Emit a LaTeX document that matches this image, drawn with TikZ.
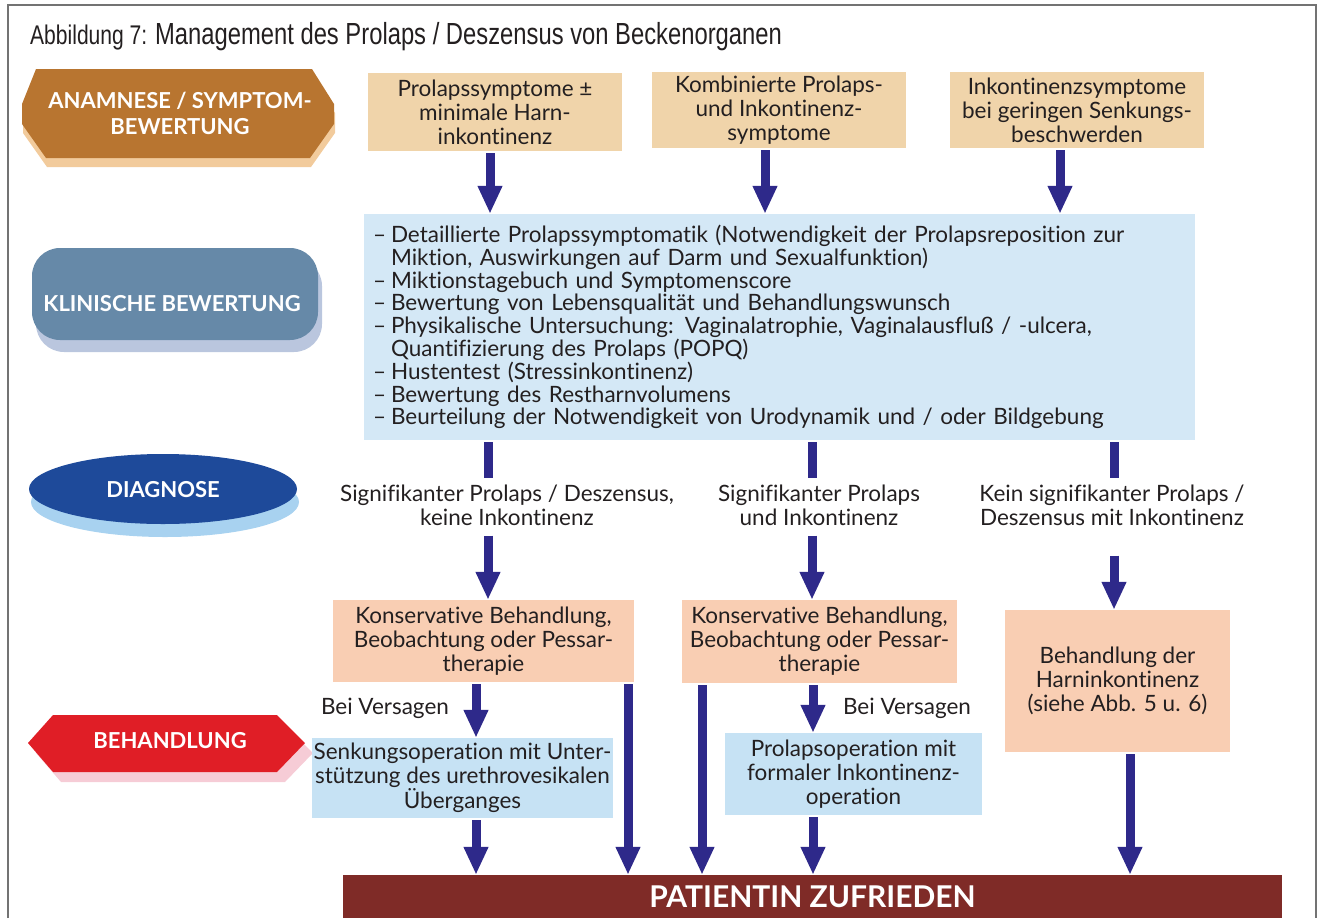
\documentclass[tikz,border=0pt]{standalone}
\usepackage{fontspec}
\setmainfont{Lato}[Ligatures=NoCommon]
\newfontfamily\titlefont[FakeStretch=0.78]{Liberation Sans}
\usetikzlibrary{arrows.meta,calc,positioning}
\definecolor{pfeilblau}{RGB}{46,41,138}
\definecolor{sand}{RGB}{240,212,170}
\definecolor{lachs}{RGB}{249,206,179}
\definecolor{hellblau}{RGB}{212,232,246}
\definecolor{eisblau}{RGB}{198,226,244}
\definecolor{braun}{RGB}{184,117,48}
\definecolor{braunhell}{RGB}{242,203,156}
\definecolor{stahl}{RGB}{102,137,168}
\definecolor{stahlhell}{RGB}{186,198,222}
\definecolor{marine}{RGB}{30,74,154}
\definecolor{marinehell}{RGB}{168,210,240}
\definecolor{signalrot}{RGB}{224,30,38}
\definecolor{rosa}{RGB}{246,204,214}
\definecolor{weinrot}{RGB}{127,43,39}
\definecolor{schrift}{RGB}{35,31,32}
\newcommand{\punkt}{\makebox[18pt][l]{–}}
\tikzset{
  kasten/.style={inner sep=0pt, align=center, text=schrift,
                 font=\fontsize{22.5}{24}\selectfont},
  pfeil/.style={draw=pfeilblau, line width=9pt, shorten <=2pt,
                -{Triangle[width=23pt,length=28pt]}},
  balken/.style={draw=pfeilblau, line width=9pt, shorten <=2pt, shorten >=6pt},
  etikett/.style={inner sep=0pt, align=center, text=white,
                  font=\fontsize{22}{26}\selectfont\bfseries}
}

\begin{document}
\begin{tikzpicture}[x=1pt,y=-1pt]
\useasboundingbox (0,0) rectangle (1324,918);
\draw[black!55, line width=2pt] (8,918) -- (8,5) -- (1316,5) -- (1316,918);
\node[anchor=base west, inner sep=0, text=schrift] (titel) at (30,44)
  {\titlefont\fontsize{27}{29}\selectfont Abbildung 7: \fontsize{30.5}{33}\selectfont Management des Prolaps / Deszensus von Beckenorganen};

% linke Spalte
\fill[braunhell, shift={(1,9)}] (36,69) -- (312,69) -- (334,104) -- (334,124) -- (310,158) -- (46,158) -- (22,124) -- (22,104) -- cycle;
\fill[braun] (36,69) -- (312,69) -- (334,104) -- (334,124) -- (310,158) -- (46,158) -- (22,124) -- (22,104) -- cycle;
\node[etikett] (anamnese) at (180,113) {ANAMNESE / SYMPTOM-\\BEWERTUNG};
\fill[stahlhell, rounded corners=28pt] (36,258) rectangle (322,352);
\fill[stahl, rounded corners=28pt] (32,248) rectangle (318,340);
\node[etikett] (klinisch) at (172,304) {KLINISCHE BEWERTUNG};
\fill[marinehell] (165,502) ellipse [x radius=134pt, y radius=35pt];
\fill[marine] (163,489) ellipse [x radius=134pt, y radius=35pt];
\node[etikett] (diagnose) at (163,490) {DIAGNOSE};
\fill[rosa, shift={(8,10)}] (28,743) -- (53,715) -- (277,715) -- (305,743) -- (277,772) -- (53,772) -- cycle;
\fill[signalrot] (28,743) -- (53,715) -- (277,715) -- (305,743) -- (277,772) -- (53,772) -- cycle;
\node[etikett] (behandlung) at (170,741) {BEHANDLUNG};

% Kaesten
\node[kasten, fill=sand, minimum width=254pt, minimum height=78pt] (sym1) at (495,112)
  {Prolapssymptome ±\\minimale Harn-\\inkontinenz};
\node[kasten, fill=sand, minimum width=254pt, minimum height=76pt] (sym2) at (779,110)
  {Kombinierte Prolaps-\\und Inkontinenz-\\symptome};
\node[kasten, fill=sand, minimum width=254pt, minimum height=76pt] (sym3) at (1077,110)
  {Inkontinenzsymptome\\bei geringen Senkungs-\\beschwerden};
\node[kasten, fill=hellblau, minimum width=831pt, minimum height=226pt, text width=813pt, align=left,
      font=\fontsize{22.5}{22.8}\selectfont] (klinik) at (779.5,327)
  {\punkt Detaillierte Prolapssymptomatik (Notwendigkeit der Prolapsreposition zur\\
   \hspace*{18pt}Miktion, Auswirkungen auf Darm und Sexualfunktion)\\
   \punkt Miktionstagebuch und Symptomenscore\\
   \punkt Bewertung von Lebensqualität und Behandlungswunsch\\
   \punkt Physikalische Untersuchung: Vaginalatrophie, Vaginalausfluß / -ulcera,\\
   \hspace*{18pt}Quantifizierung des Prolaps (POPQ)\\
   \punkt Hustentest (Stressinkontinenz)\\
   \punkt Bewertung des Restharnvolumens\\
   \punkt Beurteilung der Notwendigkeit von Urodynamik und / oder Bildgebung};
\node[kasten] (dg1) at (507,505) {Signifikanter Prolaps / Deszensus,\\keine Inkontinenz};
\node[kasten] (dg2) at (819,505) {Signifikanter Prolaps\\und Inkontinenz};
\node[kasten] (dg3) at (1112,505) {Kein signifikanter Prolaps /\\Deszensus mit Inkontinenz};
\node[kasten, fill=lachs, minimum width=301pt, minimum height=82pt] (kons1) at (483.5,641)
  {Konservative Behandlung,\\Beobachtung oder Pessar-\\therapie};
\node[kasten, fill=lachs, minimum width=275pt, minimum height=83pt] (kons2) at (819.5,641.5)
  {Konservative Behandlung,\\Beobachtung oder Pessar-\\therapie};
\node[kasten, fill=lachs, minimum width=225pt, minimum height=142pt] (harn) at (1117.5,681)
  {Behandlung der\\Harninkontinenz\\(siehe Abb. 5 u. 6)};
\node[kasten, fill=eisblau, minimum width=301pt, minimum height=80pt] (senk) at (462.5,778)
  {Senkungsoperation mit Unter-\\stützung des urethrovesikalen\\Überganges};
\node[kasten, fill=eisblau, minimum width=257pt, minimum height=82pt] (prol) at (853.5,774)
  {Prolapsoperation mit\\formaler Inkontinenz-\\operation};
\node[kasten] (vers1) at (385,708) {Bei Versagen};
\node[kasten] (vers2) at (907,708) {Bei Versagen};
\node[fill=weinrot, minimum width=939pt, minimum height=43pt, inner sep=0pt, text=white,
      font=\fontsize{30}{32}\selectfont\bfseries] (zufrieden) at (812.5,896.5) {PATIENTIN ZUFRIEDEN};

% Spalten der Pfeile
\coordinate (k1) at (490,0);
\coordinate (k2) at (765,0);
\coordinate (k3) at (1060,0);
\coordinate (m1) at (488,0);
\coordinate (m2) at (812,0);
\coordinate (m3) at (1114,0);
\coordinate (u1) at (476,0);
\coordinate (u2) at (628,0);
\coordinate (u3) at (702,0);
\coordinate (u4) at (813,0);
\coordinate (u5) at (1130,0);

\draw[pfeil] (sym1.south -| k1) -- (klinik.north -| k1);
\draw[pfeil] (sym2.south -| k2) -- (klinik.north -| k2);
\draw[pfeil] (sym3.south -| k3) -- (klinik.north -| k3);
\draw[balken] (klinik.south -| m1) -- (dg1.north -| m1);
\draw[balken] (klinik.south -| m2) -- (dg2.north -| m2);
\draw[balken] (klinik.south -| m3) -- (dg3.north -| m3);
\draw[pfeil, shorten <=10pt] (dg1.south -| m1) -- (kons1.north -| m1);
\draw[pfeil, shorten <=10pt] (dg2.south -| m2) -- (kons2.north -| m2);
\draw[pfeil, shorten <=30pt] (dg3.south -| m3) -- (harn.north -| m3);
\draw[pfeil] (kons1.south -| u1) -- (senk.north -| u1);
\draw[pfeil] (kons1.south -| u2) -- (zufrieden.north -| u2);
\draw[pfeil] (kons2.south -| u3) -- (zufrieden.north -| u3);
\draw[pfeil] (kons2.south -| u4) -- (prol.north -| u4);
\draw[pfeil] (senk.south -| u1) -- (zufrieden.north -| u1);
\draw[pfeil] (prol.south -| u4) -- (zufrieden.north -| u4);
\draw[pfeil] (harn.south -| u5) -- (zufrieden.north -| u5);
\end{tikzpicture}
\end{document}
